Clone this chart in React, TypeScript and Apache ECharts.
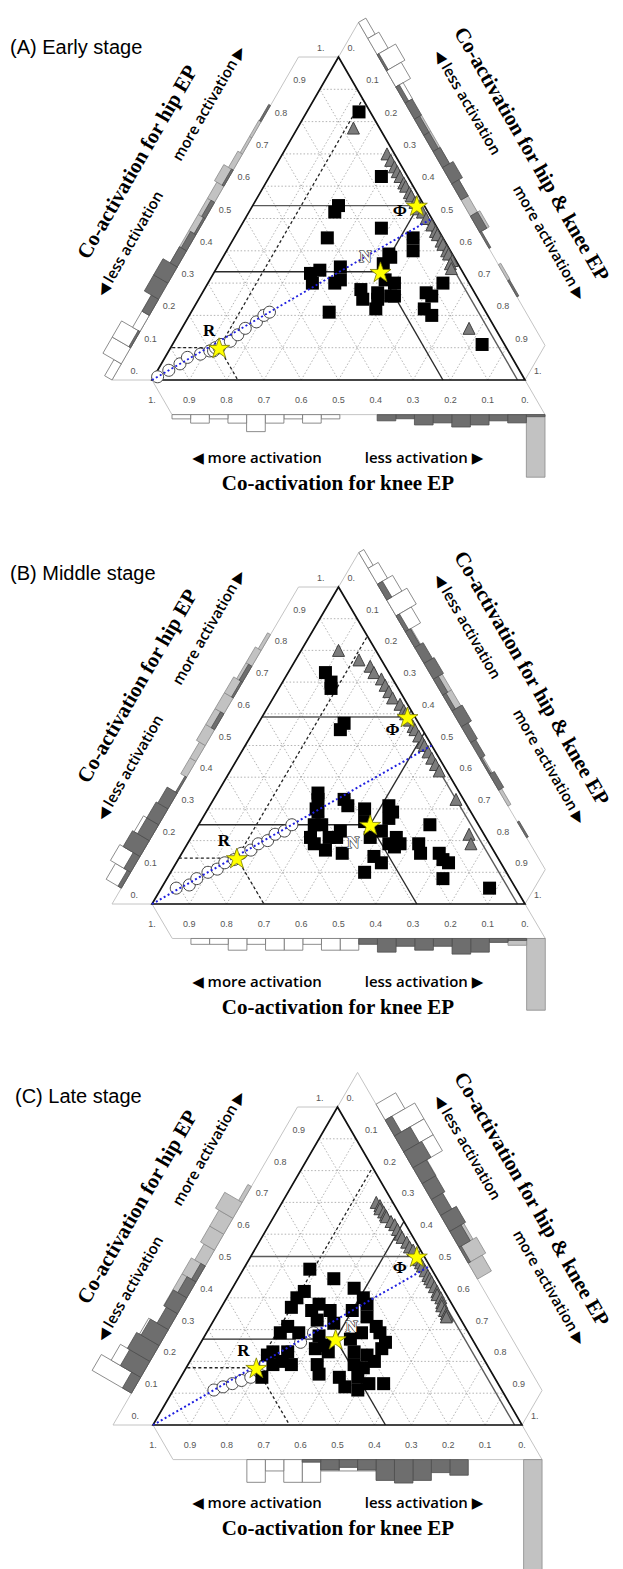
import React, { useEffect, useRef } from "react";
import * as echarts from "echarts";

const SQ = Math.sqrt(3) / 2;

// ---------- axis ticks & texts ----------
const TICK_VALUES = [0, 0.1, 0.2, 0.3, 0.4, 0.5, 0.6, 0.7, 0.8, 0.9, 1];
const TICK_LABELS = ["0.", "0.1", "0.2", "0.3", "0.4", "0.5", "0.6", "0.7", "0.8", "0.9", "1."];
const GRID_VALUES = [0.1, 0.2, 0.3, 0.4, 0.5, 0.6, 0.7, 0.8, 0.9];
const BIN_WIDTH = 0.05;
const PANEL_TITLES = ["(A) Early stage", "(B) Middle stage", "(C) Late stage"];
const TITLE_HIP = "Co-activation for hip EP";
const TITLE_HIP_KNEE = "Co-activation for hip & knee EP";
const TITLE_KNEE = "Co-activation for knee EP";
const MORE_AFTER = "more activation \u25B6";
const LESS_BEFORE = "\u25C0 less activation";
const MORE_BEFORE = "\u25C0 more activation";
const LESS_AFTER = "less activation \u25B6";
const STAR_NAMES = ["R", "N", "\u03A6"];
const BLUE_LINE = [[0, 1], [0.5, 0]]; // [hip, knee]

// ---------- data: [hip, knee]  (hip & knee = 1 - hip - knee) ----------
const A_R = [[0.01, 0.98], [0.03, 0.94], [0.05, 0.9], [0.07, 0.87], [0.08, 0.83], [0.09, 0.8], [0.09, 0.79], [0.1, 0.78], [0.1, 0.77], [0.11, 0.76], [0.12, 0.73], [0.14, 0.7], [0.16, 0.67], [0.18, 0.63], [0.2, 0.6], [0.21, 0.58]];
const A_N = [[0.83, 0.03], [0.63, 0.07], [0.54, 0.23], [0.52, 0.25], [0.47, 0.15], [0.44, 0.31], [0.44, 0.08], [0.4, 0.1], [0.39, 0.17], [0.38, 0.17], [0.36, 0.2], [0.34, 0.38], [0.33, 0.41], [0.35, 0.32], [0.3, 0.42], [0.31, 0.34], [0.3, 0.36], [0.21, 0.42], [0.28, 0.3], [0.25, 0.31], [0.27, 0.26], [0.22, 0.29], [0.26, 0.23], [0.31, 0.22], [0.25, 0.27], [0.3, 0.2], [0.26, 0.22], [0.3, 0.07], [0.27, 0.13], [0.26, 0.12], [0.22, 0.16], [0.2, 0.15], [0.11, 0.06]];
const A_PHI = [[0.78, 0.07], [0.7, 0.02], [0.68, 0.02], [0.66, 0.02], [0.645, 0.02], [0.63, 0.02], [0.61, 0.02], [0.6, 0.02], [0.58, 0.02], [0.57, 0.02], [0.55, 0.02], [0.53, 0.02], [0.52, 0.015], [0.5, 0.015], [0.48, 0.01], [0.46, 0.01], [0.45, 0.01], [0.43, 0.01], [0.42, 0.01], [0.4, 0.01], [0.39, 0.01], [0.37, 0.01], [0.36, 0.02], [0.345, 0.025], [0.16, 0.07]];
const A_STARS = [[0.1, 0.77], [0.335, 0.22], [0.54, 0.02]];

const B_R = [[0.05, 0.91], [0.06, 0.87], [0.08, 0.84], [0.1, 0.8], [0.11, 0.77], [0.13, 0.74], [0.14, 0.71], [0.16, 0.68], [0.17, 0.65], [0.19, 0.62], [0.2, 0.59], [0.22, 0.56], [0.23, 0.53], [0.25, 0.5]];
const B_N = [[0.73, 0.17], [0.7, 0.17], [0.68, 0.18], [0.57, 0.2], [0.55, 0.22], [0.35, 0.38], [0.33, 0.39], [0.3, 0.41], [0.29, 0.41], [0.25, 0.44], [0.25, 0.42], [0.21, 0.47], [0.19, 0.47], [0.21, 0.42], [0.17, 0.45], [0.23, 0.38], [0.21, 0.4], [0.16, 0.41], [0.33, 0.32], [0.31, 0.32], [0.3, 0.28], [0.26, 0.3], [0.21, 0.31], [0.23, 0.27], [0.15, 0.33], [0.13, 0.32], [0.1, 0.38], [0.19, 0.27], [0.31, 0.21], [0.29, 0.21], [0.27, 0.23], [0.21, 0.24], [0.19, 0.24], [0.18, 0.26], [0.19, 0.19], [0.16, 0.2], [0.25, 0.13], [0.16, 0.15], [0.14, 0.15], [0.13, 0.14], [0.08, 0.18], [0.05, 0.07]];
const B_PHI = [[0.8, 0.1], [0.77, 0.06], [0.75, 0.04], [0.73, 0.04], [0.71, 0.03], [0.69, 0.03], [0.67, 0.03], [0.65, 0.03], [0.63, 0.02], [0.61, 0.02], [0.6, 0.02], [0.58, 0.02], [0.56, 0.02], [0.55, 0.02], [0.53, 0.02], [0.51, 0.02], [0.5, 0.02], [0.48, 0.02], [0.46, 0.02], [0.44, 0.02], [0.42, 0.02], [0.33, 0.02], [0.22, 0.04], [0.19, 0.05]];
const B_STARS = [[0.145, 0.7], [0.25, 0.29], [0.59, 0.02]];

const C_R = [[0.11, 0.78], [0.12, 0.75], [0.13, 0.72], [0.14, 0.69], [0.15, 0.66], [0.17, 0.63], [0.19, 0.6], [0.2, 0.57], [0.23, 0.52], [0.26, 0.47], [0.29, 0.42]];
const C_N = [[0.49, 0.33], [0.46, 0.28], [0.42, 0.38], [0.4, 0.41], [0.37, 0.44], [0.38, 0.36], [0.43, 0.24], [0.4, 0.23], [0.38, 0.23], [0.36, 0.39], [0.36, 0.34], [0.33, 0.39], [0.34, 0.25], [0.31, 0.24], [0.31, 0.48], [0.29, 0.51], [0.29, 0.46], [0.28, 0.41], [0.25, 0.41], [0.29, 0.29], [0.29, 0.24], [0.26, 0.24], [0.23, 0.56], [0.23, 0.52], [0.24, 0.44], [0.23, 0.41], [0.23, 0.34], [0.22, 0.31], [0.24, 0.26], [0.2, 0.55], [0.19, 0.53], [0.19, 0.46], [0.16, 0.47], [0.19, 0.36], [0.18, 0.34], [0.15, 0.37], [0.12, 0.42], [0.11, 0.39], [0.13, 0.35], [0.13, 0.31], [0.22, 0.58], [0.19, 0.58], [0.15, 0.63], [0.36, 0.28], [0.32, 0.35], [0.27, 0.33], [0.2, 0.3], [0.15, 0.42]];
const C_PHI = [[0.7, 0.045], [0.69, 0.04], [0.68, 0.045], [0.67, 0.04], [0.66, 0.04], [0.655, 0.04], [0.64, 0.035], [0.63, 0.03], [0.615, 0.03], [0.6, 0.03], [0.59, 0.03], [0.575, 0.025], [0.56, 0.025], [0.55, 0.02], [0.52, 0.02], [0.51, 0.02], [0.5, 0.02], [0.485, 0.02], [0.47, 0.02], [0.46, 0.02], [0.45, 0.02], [0.435, 0.02], [0.42, 0.02], [0.41, 0.025], [0.4, 0.02], [0.385, 0.025], [0.375, 0.03], [0.36, 0.03], [0.35, 0.03], [0.345, 0.03], [0.34, 0.035]];
const C_STARS = [[0.18, 0.63], [0.27, 0.37], [0.53, 0.02]];

const PANELS = [
  { r: A_R, n: A_N, phi: A_PHI, stars: A_STARS },
  { r: B_R, n: B_N, phi: B_PHI, stars: B_STARS },
  { r: C_R, n: C_N, phi: C_PHI, stars: C_STARS },
];

// ---------- layout (pixels) ----------
const LAYOUT = [
  { left: 152, top: 57, width: 373, height: 323, bottom: 380, titleX: 10, titleY: 47, histLen: 68, lab: [[-10, -17], [-15, -15], [-17, 5]] },
  { left: 152, top: 587, width: 373, height: 317, bottom: 904, titleX: 10, titleY: 573, histLen: 82, lab: [[-13, -18], [-17, 18], [-15, 13]] },
  { left: 153, top: 1107, width: 369, height: 318, bottom: 1425, titleX: 15, titleY: 1096, histLen: 125, lab: [[-13, -17], [16, -13], [-17, 11]] },
];
const STRIP = 40;
const HIST_STYLE = [
  { fill: "#ffffff", stroke: "#707070" }, // R  (circles)
  { fill: "#6e6e6e", stroke: "#4e4e4e" }, // N  (squares)
  { fill: "#c2c2c2", stroke: "#8a8a8a" }, // Phi (triangles)
];
const STAR_PATH = "path://M50,2 L61.8,36.3 L97.6,36.3 L68.6,57.5 L79.6,91.8 L50,70.6 L20.4,91.8 L31.4,57.5 L2.4,36.3 L38.2,36.3 Z";

function tern(hip: number, knee: number) {
  const c = 1 - hip - knee;
  return [c + hip / 2, hip * SQ];
}
function unit(a: number[], b: number[]) {
  const dx = b[0] - a[0], dy = b[1] - a[1];
  const l = Math.hypot(dx, dy);
  return [dx / l, dy / l];
}
function add(p: number[], v: number[], s: number) {
  return [p[0] + v[0] * s, p[1] + v[1] * s];
}

function makeFrame(stars: number[][]) {
  return (_params: any, api: any) => {
    const P = (h: number, k: number) => api.coord(tern(h, k));
    const BL = P(0, 1), BR = P(0, 0), T = P(1, 0);
    const ch: any[] = [];
    const seg = (a: number[], b: number[], stroke: string, lw: number, dash?: number[]) => {
      const style: any = { stroke, lineWidth: lw };
      if (dash) style.lineDash = dash;
      ch.push({ type: "line", shape: { x1: a[0], y1: a[1], x2: b[0], y2: b[1] }, style });
    };
    const text = (x: number, y: number, t: string, align: string) => {
      ch.push({
        type: "text", x, y,
        style: { text: t, fill: "#555", font: "9px 'Liberation Sans', Arial, sans-serif", align, textAlign: align, verticalAlign: "middle", textVerticalAlign: "middle" },
      });
    };
    const sL = unit(BR, BL), sR = unit(BL, T), sB = unit(T, BR);
    const strip = (pts: number[][]) => ch.push({ type: "polygon", shape: { points: pts }, style: { fill: "none", stroke: "#c4c4c4", lineWidth: 1 } });
    strip([BL, add(BL, sL, STRIP), add(T, sL, STRIP), T]);
    strip([T, add(T, sR, STRIP), add(BR, sR, STRIP), BR]);
    strip([BR, add(BR, sB, STRIP), add(BL, sB, STRIP), BL]);
    GRID_VALUES.forEach((v) => {
      seg(P(v, 1 - v), P(v, 0), "#a0a0a0", 0.8, [1.5, 2]);
      seg(P(0, v), P(1 - v, v), "#a0a0a0", 0.8, [1.5, 2]);
      seg(P(0, 1 - v), P(1 - v, 0), "#a0a0a0", 0.8, [1.5, 2]);
    });
    TICK_VALUES.forEach((v, j) => {
      const lab = TICK_LABELS[j];
      const l = P(v, 1 - v);
      text(l[0] - 14, l[1] - 9, lab, "right");
      const r = P(1 - v, 0);
      text(r[0] + 9, r[1] - 9, lab, "left");
      const b = P(0, v);
      text(b[0], b[1] + 20, lab, "center");
    });
    const region = (s: number[], stroke: string, lw: number, dash?: number[]) => {
      const a = s[0], k = s[1];
      const S = P(a, k);
      seg(S, P(a, 1 - a), stroke, lw, dash);
      seg(S, P(0, k), stroke, lw, dash);
      seg(S, P(a + k, 0), stroke, lw, dash);
    };
    region(stars[0], "#222", 1.3, [3, 2.5]);
    region(stars[1], "#2a2a2a", 1.4);
    region(stars[2], "#5a5a5a", 1.4);
    ch.push({ type: "polygon", shape: { points: [BL, T, BR] }, style: { fill: "none", stroke: "#111", lineWidth: 1.7 } });
    return { type: "group", children: ch };
  };
}

function makeHist(histLen: number) {
  return (_params: any, api: any) => {
    const g = api.value(0), ax = api.value(1), bin = api.value(2), frac = api.value(3);
    const v0 = bin * BIN_WIDTH, v1 = Math.min(1, (bin + 1) * BIN_WIDTH);
    const P = (h: number, k: number) => api.coord(tern(h, k));
    const BL = P(0, 1), BR = P(0, 0), T = P(1, 0);
    let p0: number[], p1: number[], shift: number[], dir: number[];
    if (ax === 0) {
      p0 = P(v0, 1 - v0); p1 = P(v1, 1 - v1); shift = unit(BR, BL); dir = unit(BL, T);
    } else if (ax === 1) {
      p0 = P(0, v0); p1 = P(0, v1); shift = unit(T, BR); dir = unit(BR, BL);
    } else {
      p0 = P(1 - v0, 0); p1 = P(1 - v1, 0); shift = unit(BL, T); dir = unit(T, BR);
    }
    const normal = [dir[1], -dir[0]];
    const b0 = add(p0, shift, STRIP), b1 = add(p1, shift, STRIP);
    const h = frac * histLen;
    const st = HIST_STYLE[g];
    return {
      type: "polygon",
      shape: { points: [b0, b1, add(b1, normal, h), add(b0, normal, h)] },
      style: { fill: st.fill, stroke: st.stroke, lineWidth: 0.8 },
    };
  };
}

// relative frequency of each group's points per 0.05 bin, on each of the three axes
function histData(groups: number[][][]) {
  const out: number[][] = [];
  [2, 0, 1].forEach((g) => {
    const pts = groups[g];
    for (let ax = 0; ax < 3; ax++) {
      const counts = new Array(20).fill(0);
      pts.forEach((p) => {
        const v = ax === 0 ? p[0] : ax === 1 ? p[1] : 1 - p[0] - p[1];
        const b = Math.min(19, Math.max(0, Math.floor(v / BIN_WIDTH + 1e-9)));
        counts[b] += 1;
      });
      counts.forEach((c, b) => { if (c > 0) out.push([g, ax, b, c / pts.length]); });
    }
  });
  return out;
}

function buildOption() {
  const grid: any[] = [], xAxis: any[] = [], yAxis: any[] = [], series: any[] = [], graphic: any[] = [];
  const sans = "'Liberation Sans', 'DejaVu Sans', Arial, sans-serif";
  const serifBold = "bold 21px 'Liberation Serif', 'Times New Roman', serif";
  const actFont = "600 15px 'Open Sans', 'Noto Sans', 'DejaVu Sans', sans-serif";
  PANELS.forEach((pd, i) => {
    const L = LAYOUT[i];
    grid.push({ left: L.left, top: L.top, width: L.width, height: L.height, show: false });
    xAxis.push({ type: "value", gridIndex: i, min: 0, max: 1, show: false });
    yAxis.push({ type: "value", gridIndex: i, min: 0, max: SQ, show: false });
    const base = { xAxisIndex: i, yAxisIndex: i, coordinateSystem: "cartesian2d", silent: true, animation: false };
    series.push({ ...base, type: "custom", z: 1, data: [[0.5, 0.3]], renderItem: makeFrame(pd.stars) });
    series.push({ ...base, type: "custom", z: 2, data: histData([pd.r, pd.n, pd.phi]), renderItem: makeHist(L.histLen) });
    series.push({
      ...base, type: "scatter", z: 3, symbol: "circle", symbolSize: 12,
      itemStyle: { color: "#ffffff", borderColor: "#444", borderWidth: 1, opacity: 1 },
      data: pd.r.map((p) => tern(p[0], p[1])),
    });
    series.push({
      ...base, type: "scatter", z: 4, symbol: "rect", symbolSize: 13,
      itemStyle: { color: "#000", opacity: 1 },
      data: pd.n.map((p) => tern(p[0], p[1])),
    });
    series.push({
      ...base, type: "scatter", z: 5, symbol: "triangle", symbolSize: 12,
      itemStyle: { color: "#7c7c7c", borderColor: "#404040", borderWidth: 1, opacity: 1 },
      data: pd.phi.map((p) => tern(p[0], p[1])),
    });
    series.push({
      ...base, type: "custom", z: 6, data: [[0.5, 0.3]],
      renderItem: (_p: any, api: any) => {
        const a = api.coord(tern(BLUE_LINE[0][0], BLUE_LINE[0][1]));
        const b = api.coord(tern(BLUE_LINE[1][0], BLUE_LINE[1][1]));
        return { type: "line", shape: { x1: a[0], y1: a[1], x2: b[0], y2: b[1] }, style: { stroke: "#1f1fe0", lineWidth: 2, lineDash: [2, 2.5] } };
      },
    });
    series.push({
      ...base, type: "scatter", z: 7, symbol: STAR_PATH, symbolSize: 21, symbolKeepAspect: true,
      itemStyle: { color: "#ffff00", borderColor: "#7a7a00", borderWidth: 0.8, opacity: 1 },
      label: {
        show: true, position: "inside", fontFamily: "'Liberation Serif', 'Times New Roman', serif",
        fontWeight: "bold", fontSize: 17, color: "#000",
      },
      data: pd.stars.map((s, j) => ({
        value: tern(s[0], s[1]),
        label: j === 1
          ? { formatter: STAR_NAMES[j], offset: L.lab[j], color: "#ffffff", textBorderColor: "#222", textBorderWidth: 1.2 }
          : { formatter: STAR_NAMES[j], offset: L.lab[j] },
      })),
    });

    const yb = L.bottom;
    const txt = (x: number, y: number, t: string, font: string, rot: number, align = "center") => {
      graphic.push({
        type: "text", x, y, rotation: rot, z: 100, silent: true,
        style: { text: t, font, fill: "#000", align, textAlign: align, verticalAlign: "middle", textVerticalAlign: "middle" },
      });
    };
    txt(L.titleX, L.titleY, PANEL_TITLES[i], "20px " + sans, 0, "left");
    txt(137, yb - 218, TITLE_HIP, serifBold, Math.PI / 3);
    txt(208, yb - 277, MORE_AFTER, actFont, Math.PI / 3);
    txt(129, yb - 137, LESS_BEFORE, actFont, Math.PI / 3);
    txt(532, yb - 226, TITLE_HIP_KNEE, serifBold, -Math.PI / 3);
    txt(468, yb - 278, LESS_BEFORE, actFont, -Math.PI / 3);
    txt(550, yb - 138, MORE_AFTER, actFont, -Math.PI / 3);
    txt(257, yb + 77, MORE_BEFORE, actFont, 0);
    txt(424, yb + 77, LESS_AFTER, actFont, 0);
    txt(338, yb + 103, TITLE_KNEE, "bold 21px 'Liberation Serif', 'Times New Roman', serif", 0);
  });
  return { animation: false, backgroundColor: "#fff", grid, xAxis, yAxis, series, graphic };
}

export default function App() {
  const ref = useRef<HTMLDivElement>(null);
  useEffect(() => {
    document.body.style.margin = "0";
    const chart = echarts.init(ref.current as HTMLDivElement, null, { renderer: "svg" });
    chart.setOption(buildOption() as any);
    return () => chart.dispose();
  }, []);
  return <div ref={ref} style={{ width: 623, height: 1569 }} />;
}
